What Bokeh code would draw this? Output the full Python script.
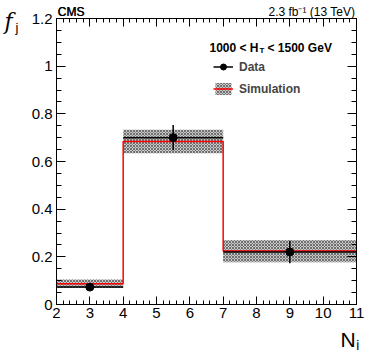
from bokeh.plotting import figure
from bokeh.models import (Range1d, FixedTicker, LinearAxis, Label, Legend, LegendItem,
                          CustomJSTickFormatter)
from bokeh.embed import file_html
from bokeh.resources import INLINE

# ---- data ----
bin_low = [2, 4, 7]
bin_high = [4, 7, 11]
data_x = [3, 5.5, 9]
data_y = [0.073, 0.700, 0.220]
data_err = [0.008, 0.053, 0.047]
sim_y = [0.087, 0.684, 0.224]
sim_err = [0.018, 0.049, 0.047]
x_ticks = [2, 3, 4, 5, 6, 7, 8, 9, 10, 11]
y_ticks = [0, 0.2, 0.4, 0.6, 0.8, 1.0, 1.2]
y_tick_labels = ["0", "0.2", "0.4", "0.6", "0.8", "1", "1.2"]
top_texts = {2.43: "CMS", 2.448: "CMS", 9.66: "2.3 fb\u207b\u00b9 (13 TeV)"}

FONT = "Liberation Sans"

p = figure(width=366, height=350, output_backend="svg", toolbar_location=None,
           x_range=Range1d(2, 11), y_range=Range1d(0, 1.2),
           min_border_left=56, min_border_right=10, min_border_top=18, min_border_bottom=46)
p.xgrid.visible = False
p.ygrid.visible = False
p.outline_line_color = "black"
p.background_fill_color = "white"

xminor = [round(2 + 0.2 * i, 2) for i in range(46)]
yminor = [round(0.05 * i, 2) for i in range(25)]

def style(ax, labels, tin, tmin):
    ax.major_tick_in = tin
    ax.major_tick_out = 0
    ax.minor_tick_in = tmin
    ax.minor_tick_out = 0
    ax.axis_line_color = "black"
    if labels:
        ax.major_label_text_font = FONT
        ax.major_label_text_font_size = "15px"
        ax.major_label_text_color = "black"
    else:
        ax.formatter = CustomJSTickFormatter(code="return ''")
        ax.major_label_standoff = 0

p.xaxis.ticker = FixedTicker(ticks=x_ticks, minor_ticks=xminor)
p.yaxis.ticker = FixedTicker(ticks=y_ticks, minor_ticks=yminor)
p.yaxis.major_label_overrides = {t: l for t, l in zip(y_ticks, y_tick_labels)}
style(p.xaxis[0], True, 8, 4)
style(p.yaxis[0], True, 9, 5)
p.xaxis.major_label_standoff = 3
p.yaxis.major_label_standoff = 4

top = LinearAxis(ticker=FixedTicker(ticks=x_ticks, minor_ticks=xminor))
style(top, False, 8, 4)
p.add_layout(top, "above")

# text row above the frame (CMS, luminosity) as an axis without ticks
txt = LinearAxis(ticker=FixedTicker(ticks=list(top_texts.keys()), minor_ticks=[]))
txt.major_label_overrides = top_texts
txt.axis_line_color = None
txt.major_tick_line_color = None
txt.minor_tick_line_color = None
txt.major_tick_in = 0
txt.major_tick_out = 0
txt.minor_tick_in = 0
txt.minor_tick_out = 0
txt.major_label_standoff = 0
txt.major_label_text_font = FONT
txt.major_label_text_font_size = "12px"
txt.major_label_text_color = "black"
p.add_layout(txt, "above")

right = LinearAxis(ticker=FixedTicker(ticks=y_ticks, minor_ticks=yminor))
style(right, False, 9, 5)
p.add_layout(right, "right")

band = p.quad(left=bin_low, right=bin_high,
              bottom=[v - e for v, e in zip(sim_y, sim_err)],
              top=[v + e for v, e in zip(sim_y, sim_err)],
              fill_color="#c8c8c8", line_color=None,
              hatch_pattern="diagonal_cross", hatch_color="#707070",
              hatch_scale=3, hatch_weight=1)
step = p.step(x=bin_low + [bin_high[-1]], y=sim_y + [sim_y[-1]], mode="after",
              line_color="red", line_width=1.5)
hx = p.segment(x0=bin_low, x1=bin_high, y0=data_y, y1=data_y, line_color="black", line_width=1.5)
p.segment(x0=data_x, x1=data_x, y0=[v - e for v, e in zip(data_y, data_err)],
          y1=[v + e for v, e in zip(data_y, data_err)], line_color="black", line_width=1.5)
pts = p.scatter(x=data_x, y=data_y, size=8, marker="circle", fill_color="black", line_color="black")

legend = Legend(items=[LegendItem(label="Data", renderers=[hx, pts]),
                       LegendItem(label="Simulation", renderers=[band, step])],
                location=(157, 208), orientation="vertical",
                border_line_color=None, background_fill_alpha=0,
                padding=0, margin=0, spacing=7, glyph_width=20, glyph_height=15,
                label_height=15, label_standoff=6,
                label_text_font=FONT, label_text_font_style="bold", label_text_font_size="12px")
p.add_layout(legend, "center")

def lab(x, y, text, xo=0, yo=0, size="12px", style="normal", font=FONT, align="left",
        panel="center"):
    p.add_layout(Label(x=x, y=y, x_offset=xo, y_offset=yo, text=text, text_font=font,
                       text_font_size=size, text_font_style=style, text_align=align,
                       text_baseline="alphabetic", text_color="black"), panel)

# legend header
lab(2, 1.2, "1000 < H", xo=153, yo=-29, size="12px", style="bold")
lab(2, 1.2, "T", xo=203, yo=-32, size="8px", style="bold")
lab(2, 1.2, "< 1500 GeV", xo=211, yo=-29, size="12px", style="bold")

# axis titles outside the frame
lab(2, 1.2, "f", xo=-52, yo=-3, size="22px", style="italic", font="DejaVu Serif", panel="left")
lab(2, 1.2, "j", xo=-41, yo=-9, size="13px", panel="left")
lab(11, 0, "N\u2c7c", xo=-16, yo=-35, size="21px", panel="below")

open("out.html", "w").write(file_html(p, INLINE))
